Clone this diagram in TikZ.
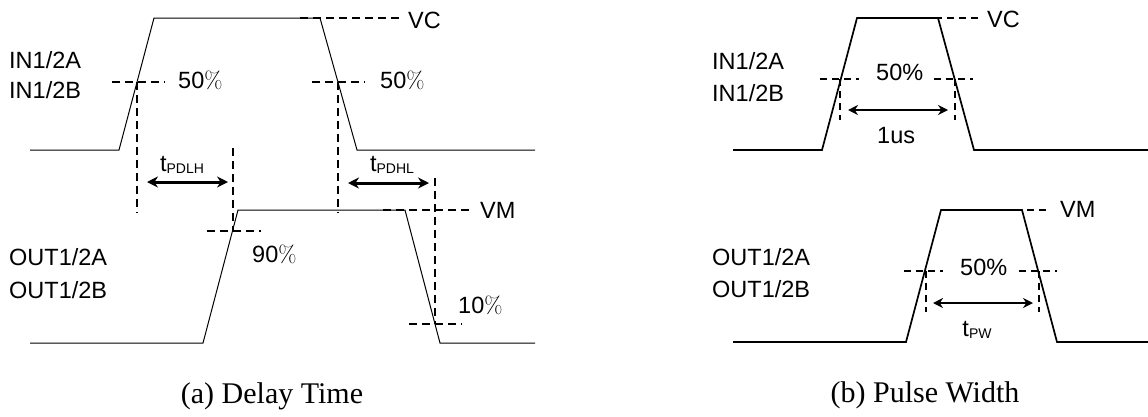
\documentclass[tikz,border=0pt]{standalone}
\usepackage{fontspec}
\newfontfamily\arialf{Liberation Sans}
\newfontfamily\serifcap{Liberation Serif}
\usetikzlibrary{arrows.meta}
\begin{document}
\begin{tikzpicture}[x=1pt,y=-1pt,
  wave/.style={line width=1pt, line join=miter},
  wavethick/.style={line width=1.7pt, line join=miter},
  dashln/.style={line width=2.4pt, dash pattern=on 8pt off 5pt},
  dashthin/.style={line width=1.9pt, dash pattern=on 7pt off 5pt},
  lbl/.style={font=\arialf\fontsize{23.5}{28}\selectfont, inner sep=0pt, anchor=base west},
  subl/.style={font=\arialf\fontsize{23.5}{28}\selectfont, inner sep=0pt, anchor=base},
  meas/.style={line width=3pt, {Stealth[length=11pt,width=11pt]}-{Stealth[length=11pt,width=11pt]}},
  measthin/.style={line width=2.4pt, {Stealth[length=10pt,width=10pt]}-{Stealth[length=10pt,width=10pt]}},
  captxt/.style={font=\serifcap\fontsize{30}{34}\selectfont, inner sep=0pt, anchor=base}
]
\useasboundingbox (0,0) rectangle (1148,416);
\newcommand{\subtxt}[1]{\raisebox{-2pt}{\fontsize{14}{14}\selectfont #1}}
% ---------------- (a) Delay Time ----------------
\draw[wave] (30,150) -- (119,150) -- (154,18) -- (320,18) -- (357,150) -- (535,150);
\draw[wave] (30,343) -- (203,343) -- (238,210) -- (405,210) -- (440,343) -- (535,343);
\draw[dashln] (300,18) -- (402,18);
\draw[dashln] (112,82) -- (165,82);
\draw[dashln] (312,82) -- (365,82);
\draw[dashln] (137,82) -- (137,213);
\draw[dashln] (233,148) -- (233,231);
\draw[dashln] (338,82) -- (338,213);
\draw[dashln] (435,178) -- (435,324);
\draw[dashln] (207,231) -- (261,231);
\draw[dashln] (383,210) -- (473,210);
\draw[dashln] (409,324) -- (462,324);
\coordinate (a1s) at (147,182);
\coordinate (a1e) at (228,182);
\coordinate (a2s) at (348,183);
\coordinate (a2e) at (429,183);
\draw[meas] (a1s) -- (a1e);
\draw[meas] (a2s) -- (a2e);
\node[lbl] (vca) at (408,28) {VC};
\node[lbl] (p50a) at (178,88) {50{\rmfamily\%}};
\node[lbl] (p50b) at (380,88) {50{\rmfamily\%}};
\node[lbl] (p90) at (252,262) {90{\rmfamily\%}};
\node[lbl] (p10) at (458,313) {10{\rmfamily\%}};
\node[lbl] (vma) at (480,218) {VM};
\node[lbl] (in1a) at (9,68.5) {IN1/2A};
\node[lbl] (in1b) at (9,98.5) {IN1/2B};
\node[lbl] (out1a) at (9,265) {OUT1/2A};
\node[lbl] (out1b) at (9,298) {OUT1/2B};
\node[subl] (tlh) at (182,171) {t\subtxt{PDLH}};
\node[subl] (thl) at (392,171) {t\subtxt{PDHL}};
\node[captxt] (capa) at (272,403) {(a) Delay Time};
% ---------------- (b) Pulse Width ----------------
\draw[wavethick] (733,150) -- (822,150) -- (857,18) -- (938,18) -- (974,150) -- (1148,150);
\draw[wavethick] (733,342) -- (906,342) -- (941,210) -- (1022,210) -- (1057,342) -- (1148,342);
\draw[dashthin] (923,18) -- (978,18);
\draw[dashthin] (820,79) -- (859,79);
\draw[dashthin] (934,79) -- (973,79);
\draw[dashthin] (840,79) -- (840,120);
\draw[dashthin] (955,79) -- (955,120);
\draw[dashthin] (1003,210) -- (1047,210);
\draw[dashthin] (904,271) -- (943,271);
\draw[dashthin] (1019,271) -- (1057,271);
\draw[dashthin] (926,271) -- (926,312);
\draw[dashthin] (1039,271) -- (1039,312);
\coordinate (b1s) at (848,110);
\coordinate (b1e) at (948,110);
\coordinate (b2s) at (933,303);
\coordinate (b2e) at (1033,303);
\draw[measthin] (b1s) -- (b1e);
\draw[measthin] (b2s) -- (b2e);
\node[lbl] (vcb) at (987,27) {VC};
\node[lbl] (p50c) at (876,80) {50\%};
\node[lbl] (us) at (877,143) {1us};
\node[lbl] (in2a) at (712,69) {IN1/2A};
\node[lbl] (in2b) at (712,101) {IN1/2B};
\node[lbl] (vmb) at (1060,217) {VM};
\node[lbl] (p50d) at (960,275) {50\%};
\node[lbl] (out2a) at (712,265) {OUT1/2A};
\node[lbl] (out2b) at (712,297) {OUT1/2B};
\node[subl] (tpw) at (977,336) {t\subtxt{PW}};
\node[captxt] (capb) at (925,402) {(b) Pulse Width};
\end{tikzpicture}
\end{document}
